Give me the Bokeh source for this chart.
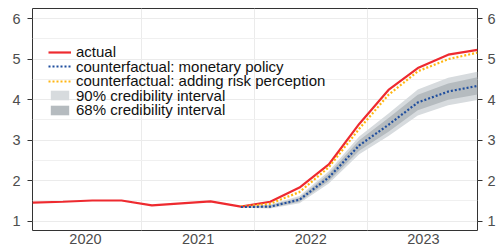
from bokeh.plotting import figure
from bokeh.models import LinearAxis, FixedTicker, Legend, LegendItem, Range1d
from bokeh.embed import file_html
from bokeh.resources import INLINE

# ---- data ----
dates = [2019.53, 2019.80, 2020.06, 2020.32, 2020.59, 2020.85, 2021.11, 2021.38,
         2021.64, 2021.90, 2022.16, 2022.43, 2022.69, 2022.95, 2023.22, 2023.48]
actual = [1.46, 1.48, 1.51, 1.51, 1.39, 1.44, 1.49, 1.36,
          1.48, 1.83, 2.40, 3.40, 4.24, 4.78, 5.11, 5.23]

cf_dates = [2021.38, 2021.64, 2021.90, 2022.16, 2022.43, 2022.69, 2022.95, 2023.22, 2023.48]
cf_monetary = [1.35, 1.36, 1.53, 2.08, 2.87, 3.38, 3.93, 4.20, 4.34]
cf_risk = [1.36, 1.43, 1.72, 2.33, 3.28, 4.12, 4.70, 5.00, 5.16]
lo90 = [1.33, 1.31, 1.44, 1.93, 2.65, 3.10, 3.61, 3.86, 3.99]
hi90 = [1.37, 1.41, 1.62, 2.23, 3.09, 3.66, 4.25, 4.54, 4.69]
lo68 = [1.34, 1.33, 1.48, 1.99, 2.74, 3.21, 3.74, 4.00, 4.13]
hi68 = [1.36, 1.39, 1.58, 2.17, 3.00, 3.55, 4.12, 4.40, 4.55]

year_ticks = [2020, 2021, 2022, 2023]
year_labels = ["2020", "2021", "2022", "2023"]
mid_years = [2020.5, 2021.5, 2022.5]
y_ticks = [1, 2, 3, 4, 5, 6]
y_minor = [1.5, 2.5, 3.5, 4.5, 5.5]

series_labels = ["actual", "counterfactual: monetary policy",
                 "counterfactual: adding risk perception",
                 "90% credibility interval", "68% credibility interval"]

FONT = "Liberation Sans"
RED = "#ee2a2f"
BLUE = "#1f4e9e"
GOLD = "#ffb612"
C90 = "#d7dbde"
C68 = "#b5bbbf"

p = figure(width=498, height=250, output_backend="svg", toolbar_location=None,
           x_range=Range1d(dates[0], dates[-1]), y_range=Range1d(0.77, 6.25),
           min_border_left=32, min_border_right=18, min_border_top=8, min_border_bottom=20,
           y_axis_location="left")
p.background_fill_color = "white"
p.border_fill_color = "white"
p.outline_line_color = "#333333"
p.outline_line_width = 1

# x axis
p.xaxis.ticker = FixedTicker(ticks=year_ticks, minor_ticks=mid_years)
p.xaxis.major_label_overrides = {t: l for t, l in zip(year_ticks, year_labels)}
p.xaxis.major_tick_out = 0
p.xaxis.major_tick_in = 0
p.xaxis.minor_tick_out = 0
p.xaxis.minor_tick_in = 0
p.xaxis.axis_line_color = None
p.xaxis.major_label_standoff = 3
p.xaxis.major_label_text_font = FONT
p.xaxis.major_label_text_font_size = "14.5px"
p.xaxis.major_label_text_color = "#4d4d4d"
p.xgrid.grid_line_color = None
p.xgrid.minor_grid_line_color = "#ebebeb"
p.xgrid.minor_grid_line_width = 1

# y axes
yt = FixedTicker(ticks=y_ticks, minor_ticks=y_minor)
right = LinearAxis()
p.add_layout(right, "right")
for ax, so in ((p.yaxis[0], 7), (right, 5)):
    ax.ticker = yt
    ax.major_tick_out = 5
    ax.major_tick_in = 0
    ax.minor_tick_out = 0
    ax.minor_tick_in = 0
    ax.major_tick_line_color = "#333333"
    ax.axis_line_color = None
    ax.major_label_standoff = so
    ax.major_label_text_font = FONT
    ax.major_label_text_font_size = "14.5px"
    ax.major_label_text_color = "#4d4d4d"
p.ygrid.ticker = yt
p.ygrid.grid_line_color = "#ebebeb"
p.ygrid.grid_line_width = 1.1
p.ygrid.minor_grid_line_color = "#f0f0f0"
p.ygrid.minor_grid_line_width = 1

# bands
r90 = p.varea(x=cf_dates, y1=lo90, y2=hi90, fill_color=C90)
r68 = p.varea(x=cf_dates, y1=lo68, y2=hi68, fill_color=C68)

# lines
ra = p.line(dates, actual, line_color=RED, line_width=2.2)
rr = p.line(cf_dates, cf_risk, line_color=GOLD, line_width=2.2, line_dash="2 2")
rm = p.line(cf_dates, cf_monetary, line_color=BLUE, line_width=2.2, line_dash="2 2")

# legend: one single-item legend per row, stacked tightly (14.5 px rows)
legend_renderers = [ra, rm, rr, r90, r68]
n = len(series_labels)
for i, (lab, rend) in enumerate(zip(series_labels, legend_renderers)):
    lg = Legend(items=[LegendItem(label=lab, renderers=[rend])],
                location=(16, 112 + (n - 1 - i) * 14.5))
    lg.background_fill_alpha = 0
    lg.border_line_color = None
    lg.label_text_font = FONT
    lg.label_text_font_size = "15px"
    lg.label_text_color = "#111111"
    lg.glyph_width = 23
    lg.glyph_height = 12
    lg.label_height = 12
    lg.spacing = 0
    lg.padding = 5
    lg.margin = 0
    lg.label_standoff = 5
    p.add_layout(lg)

open("out.html", "w").write(file_html(p, INLINE))
